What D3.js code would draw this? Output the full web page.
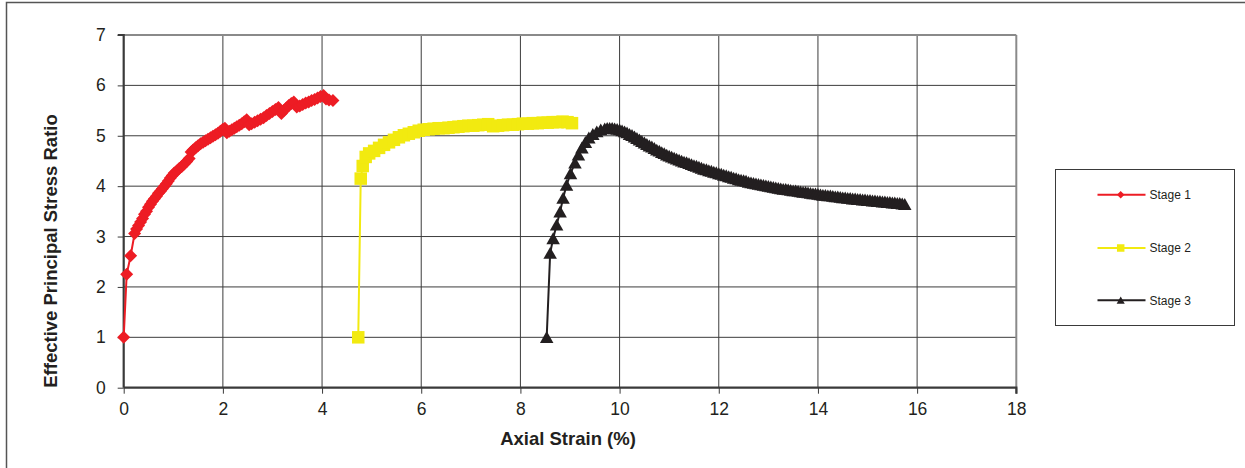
<!DOCTYPE html>
<html>
<head>
<meta charset="utf-8">
<script src="https://cdn.jsdelivr.net/npm/d3@7"></script>
<style>
  html, body { margin: 0; padding: 0; background: #fff; }
  svg { display: block; font-family: "Liberation Sans", Arial, sans-serif; }
</style>
</head>
<body>
<svg id="chart" width="1245" height="468"></svg>
<script>
// Triaxial test: effective principal stress ratio vs axial strain, three stages
const stage1Strain = [0, 0.06, 0.14, 0.22, 0.26, 0.3, 0.34, 0.38, 0.42, 0.46, 0.5, 0.54, 0.58, 0.62, 0.66,
  0.7, 0.74, 0.78, 0.82, 0.86, 0.9, 0.94, 0.98, 1.02, 1.07, 1.12, 1.17, 1.22, 1.27, 1.32, 1.36, 1.4, 1.45,
  1.5, 1.55, 1.6, 1.65, 1.7, 1.75, 1.8, 1.85, 1.9, 1.95, 2.0, 2.04, 2.08, 2.13, 2.18, 2.23, 2.28, 2.33,
  2.38, 2.43, 2.48, 2.53, 2.58, 2.64, 2.7, 2.76, 2.82, 2.88, 2.94, 3.0, 3.06, 3.12, 3.18, 3.23, 3.28, 3.33,
  3.38, 3.43, 3.49, 3.55, 3.61, 3.67, 3.73, 3.79, 3.85, 3.91, 3.97, 4.03, 4.08, 4.14, 4.22];
const stage1Ratio = [1.0, 2.25, 2.62, 3.06, 3.15, 3.22, 3.29, 3.36, 3.44, 3.5, 3.58, 3.64, 3.7, 3.75, 3.8,
  3.86, 3.9, 3.95, 4.0, 4.05, 4.1, 4.16, 4.21, 4.26, 4.3, 4.35, 4.39, 4.44, 4.49, 4.55, 4.68, 4.72, 4.76,
  4.8, 4.84, 4.87, 4.9, 4.93, 4.96, 4.99, 5.02, 5.05, 5.09, 5.13, 5.15, 5.06, 5.09, 5.12, 5.15, 5.18, 5.21,
  5.24, 5.28, 5.32, 5.22, 5.24, 5.27, 5.3, 5.33, 5.36, 5.4, 5.44, 5.48, 5.52, 5.56, 5.44, 5.5, 5.55, 5.6,
  5.64, 5.67, 5.57, 5.59, 5.62, 5.65, 5.67, 5.7, 5.72, 5.75, 5.78, 5.8, 5.73, 5.71, 5.7];

const stage2Strain = [4.73, 4.78, 4.82, 4.88, 4.95, 5.05, 5.15, 5.25, 5.35, 5.45, 5.55, 5.65, 5.75, 5.85,
  5.95, 6.05, 6.15, 6.25, 6.35, 6.45, 6.55, 6.65, 6.75, 6.85, 6.95, 7.05, 7.15, 7.25, 7.35, 7.45, 7.55,
  7.65, 7.75, 7.85, 7.95, 8.05, 8.15, 8.25, 8.35, 8.45, 8.55, 8.65, 8.75, 8.85, 8.95, 9.04];
const stage2Ratio = [1.0, 4.15, 4.4, 4.58, 4.65, 4.7, 4.76, 4.82, 4.87, 4.92, 4.97, 5.01, 5.04, 5.07,
  5.1, 5.12, 5.13, 5.14, 5.15, 5.15, 5.16, 5.17, 5.18, 5.19, 5.2, 5.2, 5.21, 5.22, 5.23, 5.19, 5.2,
  5.21, 5.22, 5.22, 5.23, 5.24, 5.24, 5.25, 5.25, 5.26, 5.26, 5.27, 5.27, 5.28, 5.27, 5.25];

const stage3Strain = [8.53, 8.6, 8.66, 8.73, 8.8, 8.86, 8.93, 9.01, 9.1, 9.17, 9.24, 9.31, 9.38, 9.46, 9.54,
  9.62, 9.7, 9.75, 9.8, 9.85, 9.9, 9.95, 10.0, 10.05, 10.1, 10.15, 10.2, 10.25, 10.3, 10.35, 10.4, 10.45,
  10.5, 10.55, 10.6, 10.65, 10.7, 10.75, 10.8, 10.85, 10.9, 10.95, 11.0, 11.05, 11.1, 11.15, 11.2, 11.25,
  11.3, 11.35, 11.4, 11.45, 11.5, 11.55, 11.6, 11.65, 11.7, 11.75, 11.8, 11.85, 11.9, 11.95, 12.0, 12.05,
  12.1, 12.15, 12.2, 12.25, 12.3, 12.35, 12.4, 12.45, 12.5, 12.55, 12.6, 12.65, 12.7, 12.75, 12.8, 12.85,
  12.9, 12.95, 13.0, 13.05, 13.1, 13.15, 13.2, 13.25, 13.3, 13.35, 13.4, 13.45, 13.5, 13.55, 13.6, 13.65,
  13.7, 13.75, 13.8, 13.85, 13.9, 13.95, 14.0, 14.05, 14.1, 14.15, 14.2, 14.25, 14.3, 14.35, 14.4, 14.45,
  14.5, 14.55, 14.6, 14.65, 14.7, 14.75, 14.8, 14.85, 14.9, 14.95, 15.0, 15.05, 15.1, 15.15, 15.2, 15.25,
  15.3, 15.35, 15.4, 15.45, 15.5, 15.55, 15.6, 15.65, 15.7, 15.75];
const stage3Ratio = [1.0, 2.67, 2.96, 3.23, 3.49, 3.76, 4.02, 4.25, 4.46, 4.62, 4.76, 4.87, 4.96, 5.03, 5.08,
  5.12, 5.14, 5.15, 5.15, 5.15, 5.14, 5.13, 5.12, 5.1, 5.08, 5.06, 5.03, 5.01, 4.98, 4.95, 4.92, 4.89,
  4.86, 4.83, 4.8, 4.78, 4.75, 4.72, 4.7, 4.67, 4.65, 4.62, 4.6, 4.58, 4.56, 4.54, 4.52, 4.5,
  4.48, 4.47, 4.45, 4.43, 4.41, 4.4, 4.38, 4.36, 4.34, 4.33, 4.31, 4.3, 4.28, 4.27, 4.25, 4.24,
  4.22, 4.21, 4.19, 4.18, 4.16, 4.15, 4.13, 4.12, 4.11, 4.1, 4.08, 4.07, 4.06, 4.05, 4.04, 4.03,
  4.02, 4.01, 4.0, 3.99, 3.98, 3.97, 3.96, 3.95, 3.94, 3.94, 3.93, 3.92, 3.91, 3.91, 3.9, 3.89,
  3.88, 3.88, 3.87, 3.86, 3.85, 3.85, 3.84, 3.83, 3.82, 3.82, 3.81, 3.81, 3.8, 3.79, 3.79, 3.78,
  3.77, 3.77, 3.76, 3.76, 3.75, 3.75, 3.74, 3.74, 3.73, 3.73, 3.72, 3.72, 3.71, 3.71, 3.7, 3.7,
  3.69, 3.69, 3.68, 3.68, 3.67, 3.67, 3.66, 3.66, 3.65, 3.64];

const stageNames = ["Stage 1", "Stage 2", "Stage 3"];
const stageColors = ["#ED1C24", "#F2EA10", "#231F20"];
const stageShapes = ["diamond", "square", "triangle"];
const xTicks = [0, 2, 4, 6, 8, 10, 12, 14, 16, 18];
const yTicks = [0, 1, 2, 3, 4, 5, 6, 7];

const svg = d3.select("#chart");

// outer frame (only top and left edges fall inside the page)
svg.append("rect").attr("x", 6.5).attr("y", 2.5).attr("width", 1300).attr("height", 600)
  .attr("fill", "none").attr("stroke", "#555").attr("stroke-width", 1.5);

const x = d3.scaleLinear().domain([0, 18]).range([123.7, 1016.3]);
const y = d3.scaleLinear().domain([0, 7]).range([387.7, 35]);

// gridlines
const grid = svg.append("g");
grid.selectAll("line.v").data(xTicks.filter(d => d > 0 && d < 18)).join("line")
  .attr("x1", d => x(d)).attr("x2", d => x(d)).attr("y1", y(7)).attr("y2", y(0))
  .attr("stroke", "#3c3c3c").attr("stroke-width", 1);
grid.selectAll("line.h").data(yTicks.filter(d => d > 0 && d < 7)).join("line")
  .attr("x1", x(0)).attr("x2", x(18)).attr("y1", d => y(d)).attr("y2", d => y(d))
  .attr("stroke", "#3c3c3c").attr("stroke-width", 1);

// plot frame: grey top/right
svg.append("line").attr("x1", x(0)).attr("x2", x(18)).attr("y1", y(7)).attr("y2", y(7))
  .attr("stroke", "#8a8a8a").attr("stroke-width", 2);
svg.append("line").attr("x1", x(18)).attr("x2", x(18)).attr("y1", y(7)).attr("y2", y(0))
  .attr("stroke", "#8a8a8a").attr("stroke-width", 2);

// axes
const yAxis = svg.append("g").attr("transform", `translate(${x(0)},0)`)
  .call(d3.axisLeft(y).tickValues(yTicks).tickSize(6).tickPadding(12).tickFormat(d3.format("d")));
const xAxis = svg.append("g").attr("transform", `translate(0,${y(0)})`)
  .call(d3.axisBottom(x).tickValues(xTicks).tickSize(6).tickPadding(9).tickFormat(d3.format("d")));
[xAxis, yAxis].forEach(a => {
  a.select(".domain").attr("stroke", "#3a3a3a").attr("stroke-width", 2.2);
  a.selectAll(".tick line").attr("stroke", "#3a3a3a").attr("stroke-width", 1);
  a.selectAll(".tick text").attr("fill", "#231F20").style("font-size", "17.5px")
    .style("font-family", "'Liberation Sans', Arial, sans-serif");
});
yAxis.select(".domain").attr("d", `M-6,${y(7)}H0V${y(0)}`);
xAxis.select(".domain").attr("d", `M${x(0)},0H${x(18)}V6`);

// axis titles
svg.append("text").attr("x", (x(0) + x(18)) / 2 - 2).attr("y", 444.5).attr("text-anchor", "middle")
  .attr("font-weight", "bold").attr("font-size", 18.5).attr("fill", "#231F20").text("Axial Strain (%)");
svg.append("text").attr("transform", "translate(57,251) rotate(-90)").attr("text-anchor", "middle")
  .attr("font-weight", "bold").attr("font-size", 18.5).attr("fill", "#231F20")
  .text("Effective Principal Stress Ratio");

// marker shapes
function shapePath(shape, s) {
  const r = s / 2;
  if (shape === "diamond") return `M0,${-r}L${r},0L0,${r}L${-r},0Z`;
  if (shape === "square") return `M${-r},${-r}H${r}V${r}H${-r}Z`;
  return `M0,${-r}L${r * 1.08},${r * 0.9}H${-r * 1.08}Z`;
}
const markerSize = [13, 12.5, 12.5];

const series = [
  stage1Strain.map((v, i) => [v, stage1Ratio[i]]),
  stage2Strain.map((v, i) => [v, stage2Ratio[i]]),
  stage3Strain.map((v, i) => [v, stage3Ratio[i]])
];

const line = d3.line().x(d => x(d[0])).y(d => y(d[1]));
series.forEach((pts, si) => {
  const g = svg.append("g");
  g.append("path").attr("d", line(pts)).attr("fill", "none")
    .attr("stroke", stageColors[si]).attr("stroke-width", 2);
  g.selectAll("path.m").data(pts).join("path").attr("class", "m")
    .attr("transform", d => `translate(${x(d[0])},${y(d[1])})`)
    .attr("d", shapePath(stageShapes[si], markerSize[si]))
    .attr("fill", stageColors[si]);
});

// legend
const legend = svg.append("g");
legend.append("rect").attr("x", 1055.5).attr("y", 169.5).attr("width", 179).attr("height", 156)
  .attr("fill", "#fff").attr("stroke", "#3a3a3a").attr("stroke-width", 1);
const legendY = [194.7, 248, 300.3];
stageNames.forEach((name, i) => {
  const row = legend.append("g").attr("transform", `translate(0,${legendY[i]})`);
  row.append("line").attr("x1", 1097.5).attr("x2", 1145.5).attr("y1", 0).attr("y2", 0)
    .attr("stroke", stageColors[i]).attr("stroke-width", 2);
  row.append("path").attr("transform", "translate(1120.7,0)")
    .attr("d", shapePath(stageShapes[i], 7.5)).attr("fill", stageColors[i]);
  row.append("text").attr("x", 1149.5).attr("y", 4.3).attr("font-size", 12).attr("fill", "#231F20")
    .text(name);
});
</script>
</body>
</html>
